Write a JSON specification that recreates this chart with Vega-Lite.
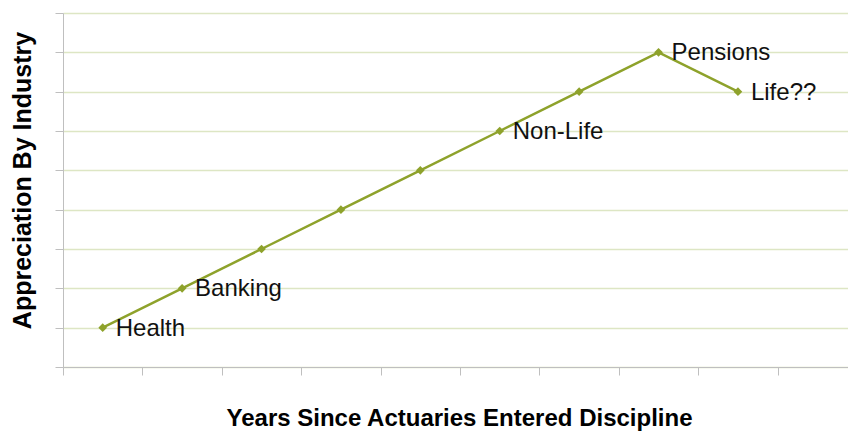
{
  "$schema": "https://vega.github.io/schema/vega-lite/v6.json",
  "width": 785,
  "height": 354,
  "autosize": "none",
  "padding": {"left": 63, "top": 13, "right": 0, "bottom": 64},
  "background": "white",
  "config": {
    "view": {"stroke": null},
    "font": "Liberation Sans"
  },
  "data": {
    "values": [
      {"x": 0.5, "y": 1, "label": "Health"},
      {"x": 1.5, "y": 2, "label": "Banking"},
      {"x": 2.5, "y": 3, "label": ""},
      {"x": 3.5, "y": 4, "label": ""},
      {"x": 4.5, "y": 5, "label": ""},
      {"x": 5.5, "y": 6, "label": "Non-Life"},
      {"x": 6.5, "y": 7, "label": ""},
      {"x": 7.5, "y": 8, "label": "Pensions"},
      {"x": 8.5, "y": 7, "label": "Life??"}
    ]
  },
  "encoding": {
    "x": {
      "field": "x",
      "type": "quantitative",
      "scale": {"domain": [0, 9.886], "nice": false, "zero": false},
      "axis": {
        "values": [0, 1, 2, 3, 4, 5, 6, 7, 8, 9],
        "labels": false,
        "grid": false,
        "domainColor": "#bfbfbf",
        "tickColor": "#bfbfbf",
        "tickSize": 8,
        "title": "Years Since Actuaries Entered Discipline",
        "titleFont": "Liberation Sans",
        "titleFontSize": 24,
        "titleFontWeight": "bold",
        "titleColor": "#000000",
        "titleX": 396,
        "titleY": 51,
        "titleAlign": "center",
        "titleBaseline": "middle"
      }
    },
    "y": {
      "field": "y",
      "type": "quantitative",
      "scale": {"domain": [0, 9], "nice": false},
      "axis": {
        "values": [0, 1, 2, 3, 4, 5, 6, 7, 8, 9],
        "labels": false,
        "grid": true,
        "gridColor": "#dde6c4",
        "gridWidth": 1.5,
        "domainColor": "#bfbfbf",
        "tickColor": "#bfbfbf",
        "tickSize": 8,
        "title": "Appreciation By Industry",
        "titleFont": "Liberation Sans",
        "titleFontSize": 25,
        "titleFontWeight": "bold",
        "titleColor": "#000000",
        "titleAngle": -90,
        "titleX": -41,
        "titleY": 167,
        "titleAlign": "center",
        "titleBaseline": "middle"
      }
    }
  },
  "layer": [
    {"mark": {"type": "line", "color": "#8ea22b", "strokeWidth": 2.5}},
    {"mark": {"type": "point", "shape": "diamond", "filled": true, "color": "#8ea22b", "size": 75, "opacity": 1}},
    {
      "mark": {"type": "text", "align": "left", "baseline": "middle", "dx": 13, "dy": 1, "fontSize": 24, "font": "Liberation Sans", "color": "#111111"},
      "encoding": {"text": {"field": "label"}}
    }
  ]
}
